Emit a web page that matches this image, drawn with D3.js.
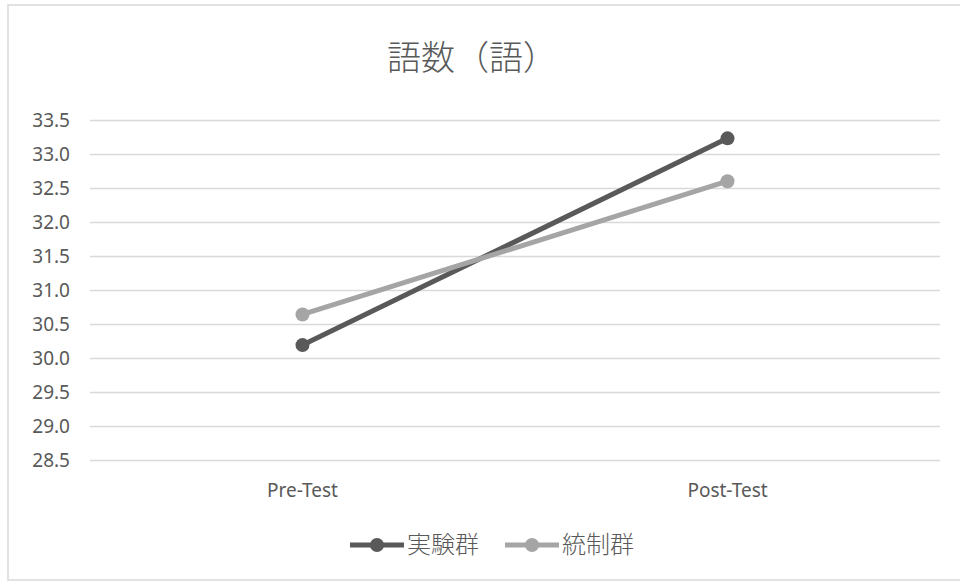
<!DOCTYPE html>
<html>
<head>
<meta charset="utf-8">
<script src="https://cdn.jsdelivr.net/npm/d3@7"></script>
<style>
  html, body { margin: 0; padding: 0; background: #fff; }
  svg { display: block; }
  text { font-family: "Noto Sans", "Noto Sans CJK JP", sans-serif; fill: #595959; }
</style>
</head>
<body>
<svg id="chart" width="960" height="581"></svg>
<script>
const categories = ["Pre-Test", "Post-Test"];
const seriesNames = ["実験群", "統制群"];
const experimentalValues = [30.19, 33.23];
const controlValues = [30.64, 32.60];
const yTicks = [28.5, 29.0, 29.5, 30.0, 30.5, 31.0, 31.5, 32.0, 32.5, 33.0, 33.5];
const titleText = "語数（語）";
const seriesColors = ["#595959", "#a5a5a5"];

const series = [
  { name: seriesNames[0], values: experimentalValues, color: seriesColors[0] },
  { name: seriesNames[1], values: controlValues, color: seriesColors[1] }
];

const svg = d3.select("#chart");

// chart border
svg.append("rect")
  .attr("x", 8).attr("y", 5)
  .attr("width", 958).attr("height", 575)
  .attr("fill", "#fff")
  .attr("stroke", "#d9d9d9")
  .attr("stroke-width", 1.5);

const plot = { left: 90, right: 940, top: 120, bottom: 460 };

const x = d3.scaleBand().domain(categories).range([plot.left, plot.right]);
const y = d3.scaleLinear().domain([28.5, 33.5]).range([plot.bottom, plot.top]);

// title
svg.append("text")
  .attr("x", 472).attr("y", 70)
  .attr("text-anchor", "middle")
  .style("font-size", "34px")
  .style("font-weight", "300")
  .text(titleText);

// gridlines + y labels
const yAxis = d3.axisLeft(y).tickValues(yTicks).tickFormat(d3.format(".1f"))
  .tickSize(-(plot.right - plot.left)).tickPadding(20);
const gy = svg.append("g").attr("transform", `translate(${plot.left},0)`).call(yAxis);
gy.select(".domain").remove();
gy.selectAll(".tick line").attr("stroke", "#d9d9d9").attr("stroke-width", 1.5);
gy.selectAll(".tick text").style("font-size", "19px").attr("fill", "#595959");

// x axis labels
const xAxis = d3.axisBottom(x).tickSize(0).tickPadding(24);
const gx = svg.append("g").attr("transform", `translate(0,${plot.bottom})`).call(xAxis);
gx.select(".domain").remove();
gx.selectAll(".tick text").style("font-size", "19px").attr("fill", "#595959");

const cx = d => x(d) + x.bandwidth() / 2;

const line = d3.line().x((d, i) => cx(categories[i])).y(d => y(d));

series.forEach(s => {
  svg.append("path")
    .datum(s.values)
    .attr("d", line)
    .attr("fill", "none")
    .attr("stroke", s.color)
    .attr("stroke-width", 5)
    .attr("stroke-linecap", "round");
  svg.selectAll(null)
    .data(s.values)
    .enter().append("circle")
    .attr("cx", (d, i) => cx(categories[i]))
    .attr("cy", d => y(d))
    .attr("r", 7)
    .attr("fill", s.color);
});

// legend
const legendY = 545;
const legendItems = [{ x: 350 }, { x: 505 }];
series.forEach((s, i) => {
  const g = svg.append("g").attr("transform", `translate(${legendItems[i].x},${legendY})`);
  g.append("line").attr("x1", 0).attr("x2", 54).attr("y1", 0).attr("y2", 0)
    .attr("stroke", s.color).attr("stroke-width", 5);
  g.append("circle").attr("cx", 27).attr("cy", 0).attr("r", 7).attr("fill", s.color);
  g.append("text").attr("x", 57).attr("y", 0).attr("dy", "0.35em")
    .style("font-size", "24px").style("font-weight", "300").text(s.name);
});
</script>
</body>
</html>
